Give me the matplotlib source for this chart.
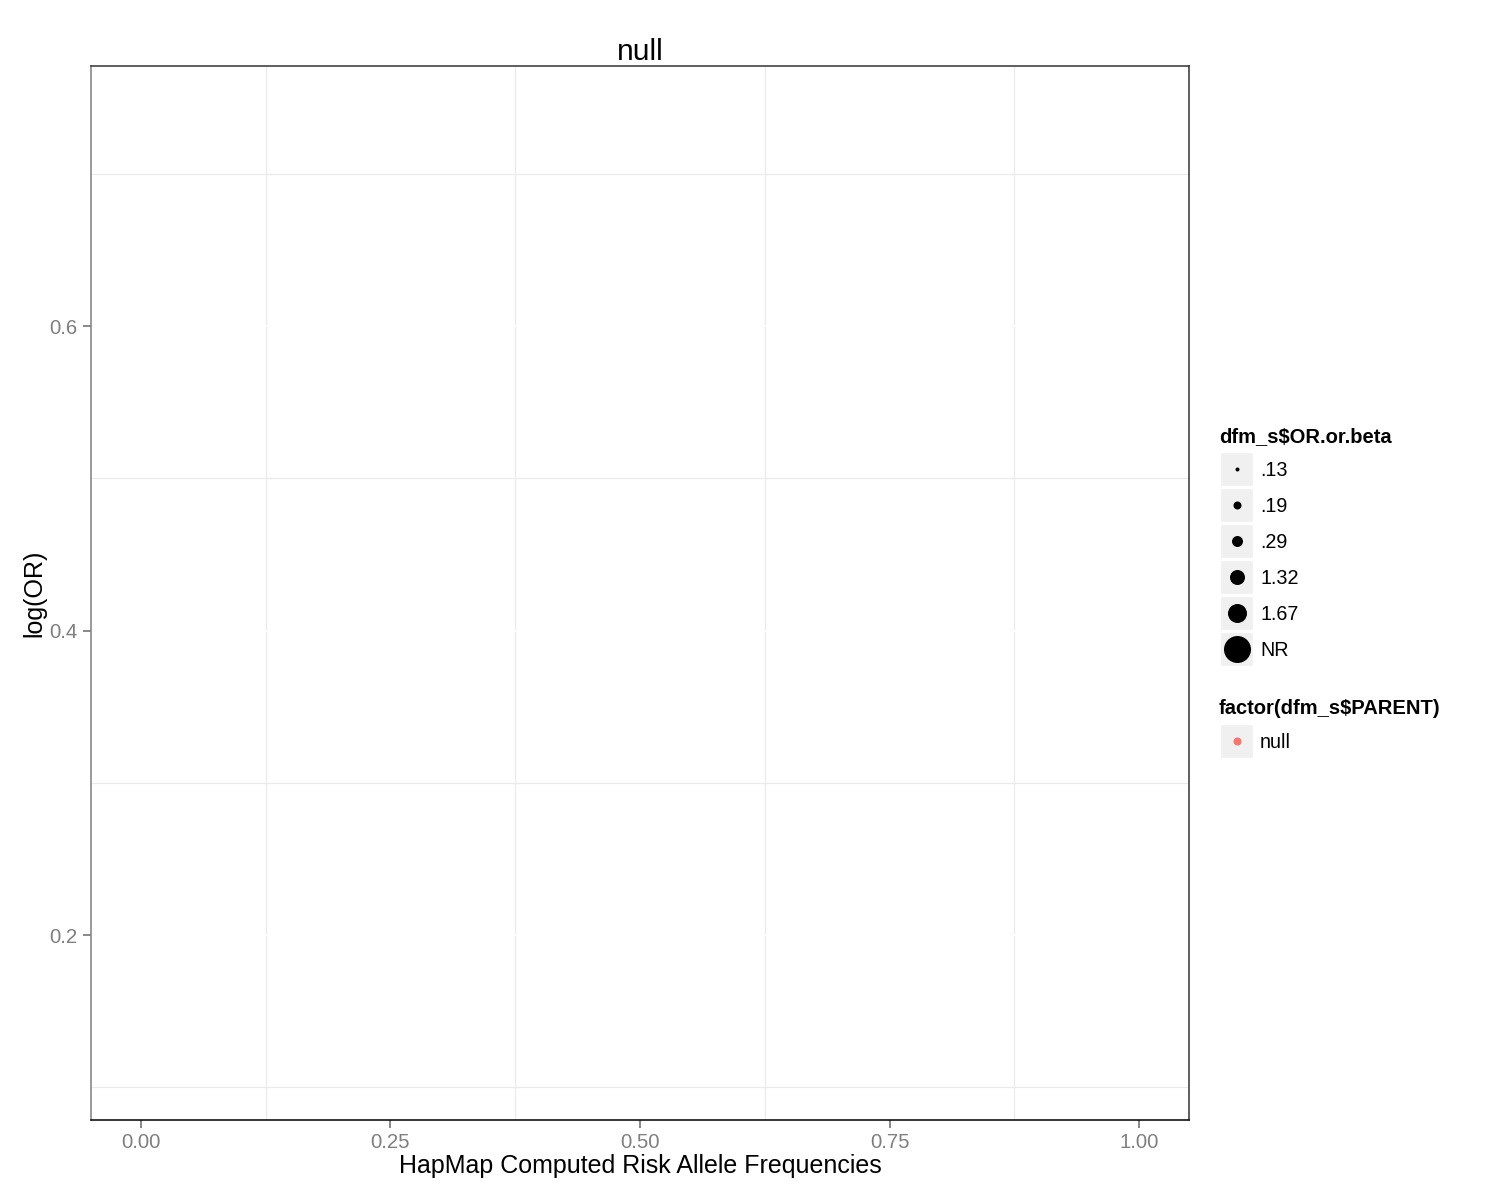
import matplotlib
matplotlib.use("Agg")
import matplotlib.pyplot as plt
from matplotlib.patches import Rectangle
import numpy as np

plt.rcParams['font.family'] = ['Liberation Sans', 'DejaVu Sans']

# data (nothing falls inside the plotted window)
risk_freq = np.array([])
log_or = np.array([])

or_levels = [".13", ".19", ".29", "1.32", "1.67", "NR"]
or_dot_px = [4, 8, 11, 15, 19, 27]
parent_levels = ["null"]
parent_colors = ["#F8766D"]

xticks = [0.0, 0.25, 0.5, 0.75, 1.0]
xtick_labels = ["0.00", "0.25", "0.50", "0.75", "1.00"]
yticks = [0.2, 0.4, 0.6]
ytick_labels = ["0.2", "0.4", "0.6"]

W, H = 1500, 1197
fig = plt.figure(figsize=(W / 100, H / 100), dpi=100)

def px_box(l, t, r, b):
    return [l / W, 1 - b / H, (r - l) / W, (b - t) / H]

ax = fig.add_axes(px_box(91, 66, 1189, 1120))
ax.scatter(risk_freq, log_or, color=parent_colors[0])
ax.set_xlim(-0.05, 1.05)
ax.set_ylim(0.0785, 0.7708)

ax.set_xticks(xticks)
ax.set_xticklabels(xtick_labels)
ax.set_yticks(yticks)
ax.set_yticklabels(ytick_labels)
ax.set_xticks([0.125, 0.375, 0.625, 0.875], minor=True)
ax.set_yticks([0.1, 0.3, 0.5, 0.7], minor=True)
ax.grid(True, which='minor', color='#ebebeb', linewidth=0.9, zorder=0)
ax.grid(True, which='major', color='white', linewidth=1.2, zorder=0.5)
ax.set_axisbelow(True)
ax.tick_params(which='minor', length=0)
ax.tick_params(which='major', length=5.5, width=1.3, color='#7f7f7f',
               labelcolor='#7f7f7f', labelsize=14.7, pad=4)

ax.spines['left'].set_color('#7f7f7f')
ax.spines['bottom'].set_color('black')
ax.spines['top'].set_color('#333333')
ax.spines['right'].set_color('#333333')
for s in ax.spines.values():
    s.set_linewidth(1.1)

ax.set_title("null", fontsize=21.5, pad=2)
ax.set_xlabel("HapMap Computed Risk Allele Frequencies", fontsize=18, labelpad=1)
ax.set_ylabel("log(OR)", fontsize=18, labelpad=2)

# legends drawn in a pixel-space overlay
lg = fig.add_axes([0, 0, 1, 1], facecolor='none')
lg.set_xlim(0, W)
lg.set_ylim(H, 0)
lg.axis('off')

lg.text(1219, 437, "dfm_s$OR.or.beta", fontsize=14.5, fontweight='bold', va='center', ha='left')
for i, (lab, d) in enumerate(zip(or_levels, or_dot_px)):
    cy = 469 + 36 * i
    lg.add_patch(Rectangle((1220, cy - 17), 33, 34, facecolor='#f0f0f0', edgecolor='white', lw=1))
    s = (d * 0.72) ** 2
    lg.scatter([1236.5], [cy], s=s, color='black', linewidths=0, zorder=3)
    lg.text(1260, cy + 1.5, lab, fontsize=14.2, va='center', ha='left')

lg.text(1219, 708, "factor(dfm_s$PARENT)", fontsize=14.5, fontweight='bold', va='center', ha='left')
for i, (lab, c) in enumerate(zip(parent_levels, parent_colors)):
    cy = 741 + 36 * i
    lg.add_patch(Rectangle((1220, cy - 17), 33, 34, facecolor='#f0f0f0', edgecolor='white', lw=1))
    lg.scatter([1236.5], [cy], s=(8 * 0.72) ** 2, color=c, linewidths=0, zorder=3)
    lg.text(1260, cy + 1.5, lab, fontsize=14.2, va='center', ha='left')

fig.savefig("out.png", dpi=100)
